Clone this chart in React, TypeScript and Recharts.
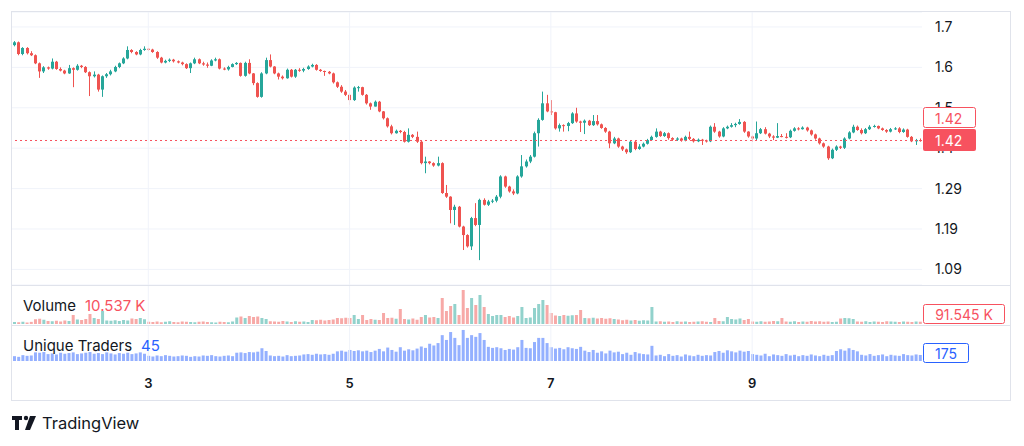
import React from "react";
import { ComposedChart, Bar, XAxis, YAxis, CartesianGrid, ReferenceLine, Cell } from "recharts";

const UP = "#26a69a";
const DOWN = "#ef5350";
const UP_VOL = "rgba(38,166,154,0.5)";
const DOWN_VOL = "rgba(239,83,80,0.5)";
const TRADERS_COLOR = "rgba(41,98,255,0.5)";
const TAG_RED = "#f7525f";
const TAG_BLUE = "#2962ff";
const GRID = "#f0f3fa";
const BORDER = "#e0e3eb";
const TEXT = "#131722";
const FONT = "Inter, 'Noto Sans', sans-serif";

// hourly candles, first one at day 1 16:00
const startDay = 1;
const startHour = 16;
const firstOpen = 1.655;

const closes = [
  1.662, 1.633, 1.648, 1.635, 1.630, 1.610, 1.590, 1.600, 1.597, 1.614,
  1.596, 1.592, 1.585, 1.598, 1.594, 1.604, 1.601, 1.588, 1.578, 1.582,
  1.545, 1.578, 1.583, 1.590, 1.601, 1.610, 1.622, 1.643, 1.638, 1.632,
  1.643, 1.646, 1.644, 1.638, 1.624, 1.612, 1.616, 1.619, 1.615, 1.612,
  1.608, 1.598, 1.610, 1.620, 1.610, 1.607, 1.604, 1.617, 1.620, 1.597,
  1.595, 1.601, 1.608, 1.611, 1.579, 1.611, 1.585, 1.561, 1.527, 1.585,
  1.618, 1.602, 1.585, 1.577, 1.573, 1.594, 1.577, 1.594, 1.592, 1.596,
  1.602, 1.606, 1.594, 1.591, 1.589, 1.585, 1.563, 1.552, 1.540, 1.532,
  1.519, 1.550, 1.551, 1.532, 1.511, 1.503, 1.515, 1.491, 1.474, 1.454,
  1.437, 1.443, 1.440, 1.416, 1.433, 1.428, 1.416, 1.363, 1.367, 1.363,
  1.357, 1.363, 1.289, 1.280, 1.247, 1.255, 1.206, 1.185, 1.157, 1.227,
  1.210, 1.272, 1.260, 1.268, 1.270, 1.280, 1.330, 1.305, 1.293, 1.288,
  1.330, 1.355, 1.367, 1.379, 1.437, 1.470, 1.511, 1.491, 1.489, 1.449,
  1.457, 1.455, 1.462, 1.486, 1.466, 1.463, 1.468, 1.457, 1.467, 1.459,
  1.450, 1.441, 1.412, 1.424, 1.404, 1.397, 1.390, 1.416, 1.398, 1.404,
  1.411, 1.420, 1.428, 1.441, 1.430, 1.437, 1.425, 1.421, 1.424, 1.419,
  1.428, 1.423, 1.417, 1.421, 1.419, 1.417, 1.453, 1.441, 1.429, 1.449,
  1.453, 1.457, 1.460, 1.465, 1.441, 1.429, 1.424, 1.437, 1.447, 1.436,
  1.429, 1.426, 1.430, 1.428, 1.427, 1.443, 1.449, 1.447, 1.451, 1.444,
  1.434, 1.424, 1.412, 1.404, 1.375, 1.396, 1.404, 1.401, 1.424, 1.439,
  1.453, 1.445, 1.437, 1.447, 1.453, 1.455, 1.449, 1.445, 1.441, 1.447,
  1.449, 1.440, 1.446, 1.428, 1.417, 1.420, 1.419,
];

const highs = [
  1.665, 1.664, 1.650, 1.650, 1.640, 1.632, 1.612, 1.603, 1.602, 1.622,
  1.616, 1.600, 1.594, 1.606, 1.600, 1.608, 1.606, 1.603, 1.590, 1.590,
  1.584, 1.580, 1.586, 1.594, 1.604, 1.612, 1.625, 1.652, 1.645, 1.640,
  1.646, 1.652, 1.648, 1.646, 1.640, 1.626, 1.619, 1.622, 1.621, 1.617,
  1.614, 1.610, 1.612, 1.624, 1.622, 1.614, 1.612, 1.620, 1.624, 1.622,
  1.600, 1.604, 1.610, 1.613, 1.612, 1.614, 1.620, 1.586, 1.563, 1.588,
  1.624, 1.632, 1.603, 1.587, 1.580, 1.597, 1.596, 1.596, 1.598, 1.599,
  1.605, 1.609, 1.608, 1.596, 1.592, 1.591, 1.587, 1.565, 1.556, 1.544,
  1.536, 1.553, 1.554, 1.552, 1.534, 1.513, 1.518, 1.517, 1.492, 1.476,
  1.458, 1.446, 1.445, 1.443, 1.449, 1.435, 1.441, 1.418, 1.379, 1.368,
  1.365, 1.379, 1.365, 1.309, 1.281, 1.260, 1.257, 1.208, 1.187, 1.230,
  1.264, 1.275, 1.276, 1.272, 1.274, 1.284, 1.333, 1.332, 1.307, 1.298,
  1.333, 1.383, 1.372, 1.383, 1.441, 1.474, 1.540, 1.532, 1.519, 1.490,
  1.461, 1.459, 1.465, 1.489, 1.500, 1.468, 1.471, 1.470, 1.482, 1.482,
  1.461, 1.452, 1.443, 1.428, 1.426, 1.406, 1.399, 1.420, 1.418, 1.410,
  1.414, 1.423, 1.431, 1.449, 1.443, 1.440, 1.439, 1.427, 1.427, 1.426,
  1.431, 1.441, 1.425, 1.424, 1.423, 1.421, 1.456, 1.462, 1.443, 1.452,
  1.456, 1.462, 1.463, 1.472, 1.467, 1.442, 1.431, 1.466, 1.450, 1.452,
  1.438, 1.432, 1.462, 1.435, 1.437, 1.446, 1.452, 1.452, 1.454, 1.453,
  1.446, 1.436, 1.426, 1.414, 1.406, 1.399, 1.407, 1.406, 1.427, 1.442,
  1.458, 1.456, 1.449, 1.450, 1.457, 1.458, 1.456, 1.451, 1.447, 1.450,
  1.452, 1.452, 1.449, 1.448, 1.430, 1.423, 1.424,
];

const lows = [
  1.652, 1.630, 1.630, 1.632, 1.628, 1.608, 1.574, 1.586, 1.594, 1.595,
  1.594, 1.590, 1.583, 1.584, 1.551, 1.592, 1.598, 1.586, 1.529, 1.575,
  1.540, 1.527, 1.574, 1.580, 1.588, 1.598, 1.608, 1.620, 1.635, 1.630,
  1.630, 1.641, 1.641, 1.636, 1.621, 1.610, 1.610, 1.613, 1.612, 1.610,
  1.605, 1.596, 1.586, 1.608, 1.608, 1.604, 1.599, 1.603, 1.615, 1.595,
  1.593, 1.592, 1.600, 1.606, 1.577, 1.577, 1.583, 1.556, 1.525, 1.525,
  1.583, 1.600, 1.583, 1.570, 1.570, 1.572, 1.575, 1.574, 1.589, 1.588,
  1.594, 1.600, 1.592, 1.589, 1.579, 1.583, 1.560, 1.549, 1.537, 1.529,
  1.507, 1.517, 1.540, 1.530, 1.508, 1.495, 1.503, 1.489, 1.471, 1.451,
  1.434, 1.436, 1.437, 1.414, 1.414, 1.425, 1.413, 1.360, 1.338, 1.360,
  1.354, 1.355, 1.287, 1.277, 1.214, 1.210, 1.204, 1.148, 1.154, 1.148,
  1.207, 1.123, 1.258, 1.257, 1.264, 1.266, 1.276, 1.302, 1.290, 1.284,
  1.286, 1.327, 1.352, 1.363, 1.377, 1.404, 1.468, 1.489, 1.482, 1.446,
  1.441, 1.441, 1.442, 1.460, 1.463, 1.440, 1.435, 1.455, 1.455, 1.456,
  1.448, 1.438, 1.400, 1.410, 1.401, 1.393, 1.386, 1.388, 1.395, 1.396,
  1.402, 1.409, 1.418, 1.426, 1.428, 1.428, 1.421, 1.418, 1.418, 1.416,
  1.417, 1.420, 1.414, 1.415, 1.408, 1.414, 1.415, 1.438, 1.426, 1.427,
  1.447, 1.451, 1.452, 1.458, 1.438, 1.426, 1.416, 1.418, 1.435, 1.434,
  1.425, 1.420, 1.425, 1.427, 1.424, 1.425, 1.441, 1.444, 1.446, 1.441,
  1.431, 1.421, 1.409, 1.401, 1.371, 1.373, 1.393, 1.398, 1.398, 1.422,
  1.437, 1.443, 1.434, 1.435, 1.445, 1.451, 1.447, 1.443, 1.438, 1.439,
  1.445, 1.437, 1.438, 1.426, 1.415, 1.408, 1.416,
];

// volume in thousands
const volumes = [
  80, 70, 90, 60, 85, 190, 210, 170, 120, 110,
  130, 100, 140, 120, 360, 180, 160, 200, 400, 240,
  200, 520, 140, 130, 150, 120, 160, 140, 220, 200,
  240, 190, 90, 80, 100, 70, 90, 110, 80, 70,
  100, 90, 80, 70, 90, 100, 80, 70, 60, 90,
  80, 70, 100, 260, 300, 240, 320, 280, 300, 240,
  200, 110, 100, 90, 120, 100, 80, 110, 90, 100,
  80, 160, 150, 170, 140, 160, 180, 240, 230, 250,
  240, 360, 200, 360, 160, 200, 170, 160, 440, 240,
  250, 210, 600, 200, 180, 220, 170, 280, 360, 260,
  280, 240, 1040, 520, 720, 800, 360, 1360, 640, 1040,
  760, 1160, 680, 400, 320, 360, 360, 280, 320, 260,
  320, 680, 240, 260, 640, 800, 960, 760, 440, 340,
  320, 360, 330, 350, 360, 560, 240, 230, 250, 220,
  240, 210, 230, 200, 180, 150, 170, 140, 160, 130,
  150, 140, 680, 100, 110, 90, 100, 80, 110, 90,
  100, 80, 90, 100, 110, 90, 80, 240, 120, 110,
  280, 200, 180, 220, 160, 200, 100, 90, 110, 90,
  100, 120, 110, 240, 100, 90, 110, 80, 100, 90,
  120, 100, 110, 90, 100, 80, 90, 220, 240, 230,
  200, 100, 90, 110, 80, 100, 90, 80, 110, 100,
  90, 80, 100, 90, 80, 100, 91.545,
];

const traders = [
  140, 120, 170, 150, 160, 250, 240, 260, 200, 220,
  190, 240, 210, 230, 250, 200, 220, 240, 260, 210,
  230, 200, 250, 220, 190, 230, 210, 240, 200, 220,
  250, 210, 150, 130, 160, 140, 170, 150, 130, 140,
  160, 150, 120, 140, 130, 160, 150, 170, 140, 130,
  150, 160, 140, 240, 250, 230, 260, 250, 270, 370,
  290, 160, 140, 150, 130, 170, 140, 150, 160, 190,
  200, 180, 210, 190, 200, 180, 210, 280, 300, 270,
  320, 290, 310, 280, 300, 260, 300, 350, 280, 390,
  320, 270, 400, 300, 340, 310, 360, 420, 380, 500,
  450, 520, 750, 610, 840, 670, 460, 900, 670, 750,
  700, 810, 610, 410, 380, 400, 370, 320, 350, 330,
  400, 610, 380, 370, 550, 670, 670, 520, 400, 360,
  380, 340, 400, 370, 350, 410, 300, 260, 320, 240,
  280, 220, 300, 250, 270, 200, 240, 180, 260, 220,
  200, 190, 440, 160, 180, 140, 200, 150, 170, 130,
  190, 160, 140, 180, 150, 170, 160, 260, 290, 240,
  310, 280, 250, 300, 270, 290, 200, 180, 160, 210,
  140, 190, 170, 150, 200, 160, 180, 140, 170, 150,
  190, 160, 140, 180, 150, 170, 290, 340, 300, 370,
  320, 280, 180, 160, 200, 150, 170, 190, 140, 180,
  160, 150, 200, 170, 160, 190, 175,
];

const dayLabels = ["3", "5", "7", "9"];
const priceTicks = [1.1, 1.2, 1.3, 1.4, 1.5, 1.6, 1.7];
const priceTickLabels = ["1.09", "1.19", "1.29", "1.4", "1.5", "1.6", "1.7"];
const volumeLegend = "10.537 K";
const tradersLegend = "45";

const times = closes.map((_, i) => {
  const h = startHour + i;
  return `${startDay + Math.floor(h / 24)}/${h % 24}`;
});
const dayTicks = dayLabels.map((d) => `${d}/0`);

const data = closes.map((c, i) => {
  const o = i === 0 ? firstOpen : closes[i - 1];
  const high = Math.max(highs[i], o, c);
  const low = Math.min(lows[i], o, c);
  return { t: times[i], open: o, close: c, high, low, range: [low, high], vol: volumes[i] ?? 0, traders: traders[i] ?? 0, up: c >= o };
});

const last = data[data.length - 1];
const W = 998;
const AXIS_W = 88;
const PRICE_H = 273;
const PRICE_DOMAIN = [1.0614, 1.737];

function Candle(props: any) {
  const { x, y, width, height, payload } = props;
  const color = payload.up ? UP : DOWN;
  const span = payload.high - payload.low || 1e-9;
  const k = height / span;
  const cx = Math.round(x + width / 2);
  const bodyTop = y + (payload.high - Math.max(payload.open, payload.close)) * k;
  const bodyH = Math.max(1, Math.abs(payload.open - payload.close) * k);
  return (
    <g>
      <rect x={cx} y={y} width={1} height={Math.max(1, height)} fill={color} />
      <rect x={cx - 1} y={bodyTop} width={3} height={bodyH} fill={color} />
    </g>
  );
}

function PriceTags(props: any) {
  const { viewBox } = props;
  const x = viewBox.x + viewBox.width + 1;
  const y = Math.round(viewBox.y);
  const txt = last.close.toFixed(2);
  return (
    <g fontFamily={FONT} fontSize={14}>
      <rect x={x + 0.5} y={y - 32.5} width={52} height={20} fill="#fff" stroke={TAG_RED} rx={2} />
      <text x={x + 12} y={y - 22} dominantBaseline="central" fill={TAG_RED}>{txt}</text>
      <rect x={x} y={y - 11} width={53} height={22} fill={TAG_RED} rx={2} />
      <text x={x + 12} y={y} dominantBaseline="central" fill="#fff">{txt}</text>
    </g>
  );
}

function PaneTag({ viewBox, text, color, width, paneBottom }: any) {
  const x = viewBox.x + viewBox.width + 1;
  const top = Math.round(Math.min(viewBox.y - 10, paneBottom - 20));
  return (
    <g fontFamily={FONT} fontSize={14}>
      <rect x={x + 0.5} y={top + 0.5} width={width} height={19} fill="#fff" stroke={color} rx={2} />
      <text x={x + width / 2 + 0.5} y={top + 10} textAnchor="middle" dominantBaseline="central" fill={color}>{text}</text>
    </g>
  );
}

function DayTick({ x, y, payload }: any) {
  return (
    <text x={x} y={y + 27} textAnchor="middle" fontSize={13} fontWeight={600} fill={TEXT} fontFamily={FONT}>
      {String(payload.value).split("/")[0]}
    </text>
  );
}

const dayLines = dayTicks.map((d) => <ReferenceLine key={d} x={d} stroke={GRID} />);

export default function App() {
  return (
    <div style={{ position: "absolute", left: 0, top: 0, width: 1024, height: 446, background: "#fff", fontFamily: FONT, color: TEXT }}>
      <div style={{ position: "absolute", left: 11, top: 11, width: 998, height: 388, border: `1px solid ${BORDER}` }} />

      <div style={{ position: "absolute", left: 12, top: 12 }}>
        <ComposedChart width={W} height={PRICE_H} data={data} margin={{ top: 0, right: 0, bottom: 0, left: 0 }} barCategoryGap={0}>
          <CartesianGrid vertical={false} stroke={GRID} />
          <XAxis dataKey="t" hide />
          <YAxis
            orientation="right"
            width={AXIS_W}
            type="number"
            domain={PRICE_DOMAIN}
            ticks={priceTicks}
            allowDataOverflow
            axisLine={false}
            tickLine={false}
            tickMargin={7}
            tick={{ fill: TEXT, fontSize: 14, fontFamily: FONT }}
            tickFormatter={(v: number) => priceTickLabels[priceTicks.indexOf(v)] ?? String(v)}
          />
          {dayLines}
          <Bar dataKey="range" shape={Candle} isAnimationActive={false} />
        </ComposedChart>
      </div>

      {/* last-price line and tags drawn on top of the axis labels */}
      <div style={{ position: "absolute", left: 12, top: 12 }}>
        <ComposedChart width={W} height={PRICE_H} data={data} margin={{ top: 0, right: 0, bottom: 0, left: 0 }}>
          <XAxis dataKey="t" hide />
          <YAxis orientation="right" width={AXIS_W} type="number" domain={PRICE_DOMAIN} allowDataOverflow axisLine={false} tickLine={false} tick={false} />
          <ReferenceLine
            y={last.close}
            stroke={TAG_RED}
            strokeWidth={1}
            strokeDasharray="2 3"
            label={(p: any) => <PriceTags {...p} />}
          />
        </ComposedChart>
      </div>

      <div style={{ position: "absolute", left: 12, top: 286 }}>
        <ComposedChart width={W} height={38} data={data} margin={{ top: 0, right: AXIS_W, bottom: 0, left: 0 }}>
          <XAxis dataKey="t" hide />
          <YAxis hide domain={[0, 1520]} />
          {dayLines}
          <Bar dataKey="vol" barSize={3} isAnimationActive={false}>
            {data.map((d, i) => <Cell key={i} fill={d.up ? UP_VOL : DOWN_VOL} />)}
          </Bar>
          <ReferenceLine
            y={last.vol}
            stroke="none"
            label={(p: any) => <PaneTag {...p} text={`${last.vol.toFixed(3)} K`} color={TAG_RED} width={81} paneBottom={38} />}
          />
        </ComposedChart>
      </div>

      <div style={{ position: "absolute", left: 12, top: 326 }}>
        <ComposedChart width={W} height={74} data={data} margin={{ top: 0, right: AXIS_W, bottom: 0, left: 0 }}>
          <XAxis dataKey="t" height={39} ticks={dayTicks} interval={0} axisLine={false} tickLine={false} tickSize={0} tickMargin={0} tick={DayTick} />
          <YAxis hide domain={[0, 1015]} />
          {dayLines}
          <Bar dataKey="traders" barSize={3} fill={TRADERS_COLOR} isAnimationActive={false} />
          <ReferenceLine
            y={last.traders}
            stroke="none"
            label={(p: any) => <PaneTag {...p} text={String(last.traders)} color={TAG_BLUE} width={45} paneBottom={37} />}
          />
        </ComposedChart>
      </div>

      <div style={{ position: "absolute", left: 12, top: 285, width: 998, height: 1, background: BORDER }} />
      <div style={{ position: "absolute", left: 12, top: 325, width: 998, height: 1, background: BORDER }} />

      <div style={{ position: "absolute", left: 23, top: 296, fontSize: 15, lineHeight: "20px", whiteSpace: "nowrap" }}>
        Volume<span style={{ color: TAG_RED, marginLeft: 9 }}>{volumeLegend}</span>
      </div>
      <div style={{ position: "absolute", left: 23, top: 336, fontSize: 15, lineHeight: "20px", whiteSpace: "nowrap" }}>
        Unique Traders<span style={{ color: TAG_BLUE, marginLeft: 9 }}>{tradersLegend}</span>
      </div>

      <svg style={{ position: "absolute", left: 12, top: 414 }} width={30} height={18}>
        <path d="M0 2h10v4H7v10H3V6H0z" fill={TEXT} />
        <circle cx={14} cy={4} r={2.2} fill={TEXT} />
        <path d="M18 2h6l-6 14h-5z" fill={TEXT} />
      </svg>
      <div style={{ position: "absolute", left: 42, top: 412, fontSize: 16.5, lineHeight: "22px" }}>TradingView</div>
    </div>
  );
}
